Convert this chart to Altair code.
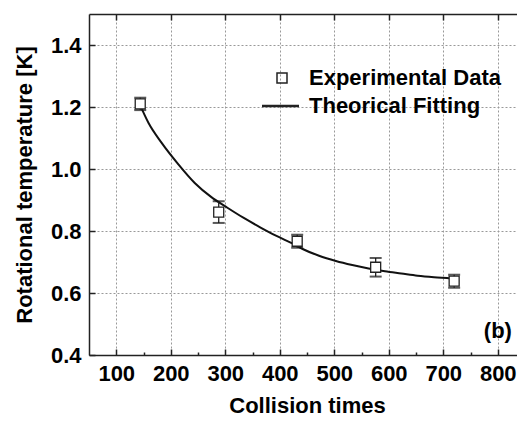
import altair as alt
import pandas as pd

# ---- data ----
collision_times = [144, 288, 432, 576, 720]
rot_temp = [1.210, 0.861, 0.767, 0.683, 0.638]
rot_err = [0.020, 0.035, 0.021, 0.030, 0.021]

fit_x = [144, 159, 183, 214, 244, 274, 304, 334, 364, 394, 424, 442, 472,
         503, 533, 563, 593, 623, 653, 683, 714, 720]
fit_y = [1.205, 1.149, 1.085, 1.015, 0.955, 0.910, 0.875, 0.842, 0.812,
         0.784, 0.759, 0.742, 0.720, 0.703, 0.690, 0.679, 0.670, 0.663,
         0.656, 0.651, 0.647, 0.646]

series_names = ["Experimental Data", "Theorical Fitting"]
x_major = [100, 200, 300, 400, 500, 600, 700, 800]
x_minor = [150, 250, 350, 450, 550, 650, 750]
y_major = [0.4, 0.6, 0.8, 1.0, 1.2, 1.4]
panel_label = ["(b)"]
panel_label_x = [826]
panel_label_y = [0.477]

FONT = "Liberation Sans"
W, H = 436, 341

pts = pd.DataFrame({"x": collision_times, "y": rot_temp, "err": rot_err})
pts["lo"] = pts["y"] - pts["err"]
pts["hi"] = pts["y"] + pts["err"]
pts["series"] = series_names[0]
caps = pd.concat([
    pd.DataFrame({"x": pts["x"], "v": pts["lo"]}),
    pd.DataFrame({"x": pts["x"], "v": pts["hi"]}),
], ignore_index=True)
fit = pd.DataFrame({"x": fit_x, "y": fit_y})
lab = pd.DataFrame({"x": panel_label_x, "y": panel_label_y, "t": panel_label})

xs = alt.Scale(domain=[50, 850], nice=False, zero=False)
ys = alt.Scale(domain=[0.4, 1.5], nice=False, zero=False)

common = dict(labels=False, grid=False, title=None)

main_x = alt.Axis(orient="bottom", values=x_major, format="d", title="Collision times",
                  grid=True, ticks=False, domain=True, labelPadding=8, titlePadding=11)
main_y = alt.Axis(orient="left", values=y_major, format=".1f",
                  title="Rotational temperature [K]", grid=True, ticks=False,
                  domain=True, labelPadding=8, titlePadding=14)
x_bot_major = alt.Axis(orient="top", offset=-H, values=x_major, ticks=True,
                       tickSize=6, domain=False, **common)
x_bot_minor = alt.Axis(orient="top", offset=-H, values=x_minor, ticks=True,
                       tickSize=3, domain=False, **common)
x_top_major = alt.Axis(orient="bottom", offset=-H, values=x_major, ticks=True,
                       tickSize=6, domain=True, **common)
y_left_major = alt.Axis(orient="right", offset=-W, values=y_major, ticks=True,
                        tickSize=6, domain=False, **common)

line = alt.Chart(fit).mark_line(color="#111", strokeWidth=2, interpolate="monotone").encode(
    x=alt.X("x:Q", scale=xs, axis=main_x),
    y=alt.Y("y:Q", scale=ys, axis=main_y),
)

rules = alt.Chart(pts).mark_rule(color="#222", strokeWidth=1.3).encode(
    x=alt.X("x:Q", scale=xs, axis=x_bot_major),
    y=alt.Y("lo:Q", scale=ys, axis=y_left_major),
    y2="hi:Q",
)

capm = alt.Chart(caps).mark_tick(orient="horizontal", size=12, thickness=2, color="#111").encode(
    x=alt.X("x:Q", scale=xs, axis=x_bot_minor),
    y=alt.Y("v:Q", scale=ys, axis=None),
)

# white interior of the hollow squares
pts_bg = alt.Chart(pts).mark_square(color="white", size=100, opacity=1).encode(
    x=alt.X("x:Q", scale=xs, axis=None),
    y=alt.Y("y:Q", scale=ys, axis=None),
)

points = alt.Chart(pts).mark_point(filled=False, color="#222",
                                   strokeWidth=1.3, size=100, opacity=1).encode(
    x=alt.X("x:Q", scale=xs, axis=x_top_major),
    y=alt.Y("y:Q", scale=ys, axis=None),
    shape=alt.Shape(
        "series:N",
        scale=alt.Scale(domain=series_names,
                        range=["square", "M-4,-0.1L3.4,-0.1M-4,0.1L3.4,0.1"]),
        legend=alt.Legend(title=None, orient="none", legendX=182, legendY=53,
                          labelFont=FONT, labelFontSize=22, labelFontWeight="bold",
                          labelColor="black", symbolSize=100,
                          symbolStrokeColor="#222",
                          labelOffset=16, rowPadding=6, labelLimit=400),
    ),
)

text = alt.Chart(lab).mark_text(align="right", baseline="middle", font=FONT,
                                fontSize=22, fontWeight="bold", color="black").encode(
    x=alt.X("x:Q", scale=xs, axis=None),
    y=alt.Y("y:Q", scale=ys, axis=None),
    text="t:N",
)

chart = alt.layer(line, rules, capm, pts_bg, points, text).resolve_axis(
    x="independent", y="independent"
).properties(
    width=W, height=H,
    autosize=alt.AutoSizeParams(type="none"),
    padding={"left": 81, "top": 6, "right": -8, "bottom": 61},
    background="white",
).configure_view(
    stroke=None
).configure_axis(
    labelFont=FONT, labelFontSize=22, labelFontWeight="bold", labelColor="black",
    titleFont=FONT, titleFontSize=22, titleFontWeight="bold", titleColor="black",
    gridColor="#999", gridDash=[2, 2], gridWidth=1, tickColor="#222", tickWidth=1.5,
    domainColor="#222", domainWidth=1.5,
)

chart.save("out.html", embed_options={"renderer": "svg", "actions": False})
